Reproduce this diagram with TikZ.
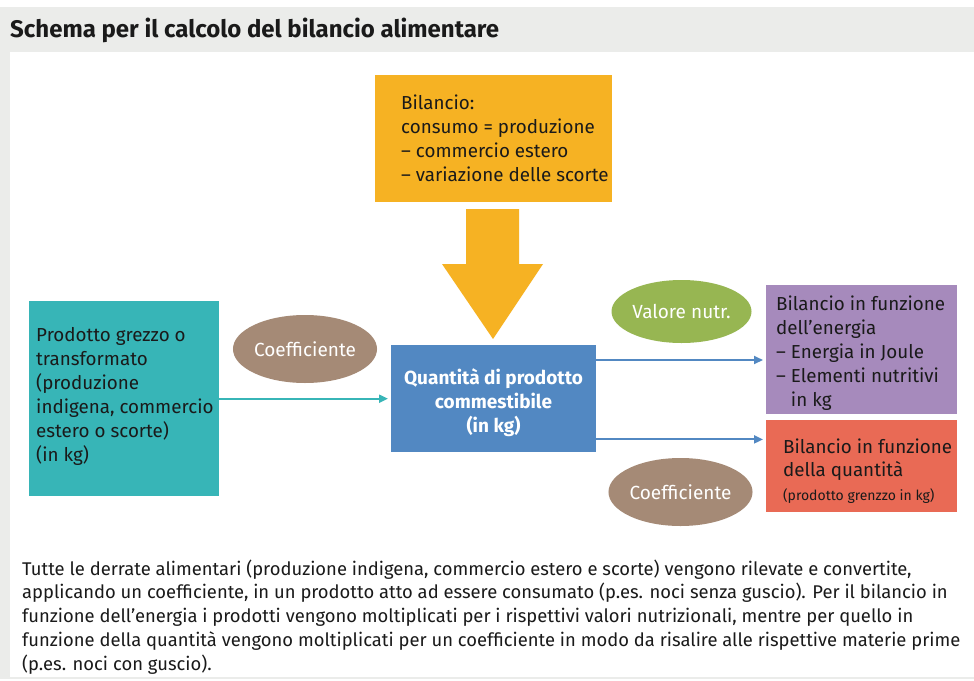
\documentclass[tikz,border=0pt]{standalone}
\usepackage{fontspec}
\setmainfont{Fira Sans}
\usetikzlibrary{arrows.meta,shapes.geometric}
\definecolor{cgray}{HTML}{EBECEA}
\definecolor{corange}{HTML}{F6B223}
\definecolor{cblue}{HTML}{5288C2}
\definecolor{cteal}{HTML}{37B5B7}
\definecolor{cbrown}{HTML}{A58A76}
\definecolor{cgreen}{HTML}{97B652}
\definecolor{cpurple}{HTML}{A68ABC}
\definecolor{cred}{HTML}{E96A55}
\definecolor{ctext}{HTML}{1A1A1A}
\begin{document}
\begin{tikzpicture}[x=1pt,y=-1pt,
  box/.style={draw=none, inner sep=0pt, anchor=north west},
  txt/.style={inner sep=0pt, align=left, anchor=north west, text=ctext, font=\fontsize{18.8}{24}\selectfont},
  ell/.style={ellipse, inner sep=0pt, text=white, minimum width=140pt, minimum height=68pt, font=\fontsize{19}{24}\selectfont},
  arr/.style={line width=2pt, shorten >=3pt, -{Triangle[length=9pt,width=8pt]}}]
\useasboundingbox (0,0) rectangle (974,680);
% frame
\fill[cgray] (0,7) rectangle (974,679);
\fill[white] (10,52) rectangle (974,677);
\node[inner sep=0pt, anchor=base west, text=ctext, font=\fontsize{24}{28}\selectfont\bfseries] (title) at (10,37) {Schema per il calcolo del bilancio alimentare};
% boxes
\node[box, fill=corange, minimum width=237pt, minimum height=127pt] (bil) at (375,75) {};
\node[box, fill=cteal, minimum width=190pt, minimum height=195pt] (prod) at (29,301) {};
\node[box, fill=cblue, minimum width=205pt, minimum height=107pt] (qta) at (391,345) {};
\node[box, fill=cpurple, minimum width=191pt, minimum height=129pt] (ener) at (766,285) {};
\node[box, fill=cred, minimum width=191pt, minimum height=92pt] (quant) at (766,420) {};
% texts
\node[txt] (bilt) at (401,92.2) {\strut Bilancio:\\consumo = produzione\\– commercio estero\\– variazione delle scorte};
\node[txt] (prodt) at (36,324.2) {\strut Prodotto grezzo o\\transformato\\(produzione\\indigena, commercio\\estero o scorte)\\(in kg)};
\node[txt, align=center, anchor=north, text=white, font=\fontsize{19}{24}\selectfont\bfseries] (qtat) at (493.5,367.2) {\strut Quantità di prodotto\\commestibile\\(in kg)};
\node[txt] (enert) at (776,293.2) {\strut Bilancio in funzione\\dell’energia\\– Energia in Joule\\– Elementi nutritivi\\\hphantom{– }in kg};
\node[txt, font=\fontsize{18.8}{23.5}\selectfont] (quantt) at (783,436.5) {\strut Bilancio in funzione\\della quantità};
\node[inner sep=0pt, anchor=base west, text=ctext, font=\fontsize{14}{18}\selectfont] (quantn) at (783,500) {(prodotto grenzzo in kg)};
% ellipses
\node[ell, fill=cbrown] (coef1) at (305,349) {Coefficiente};
\node[ell, fill=cgreen, minimum height=63pt] (valn) at (681.5,311.5) {Valore nutr.};
\node[ell, fill=cbrown] (coef2) at (680.5,492) {Coefficiente};
% big arrow
\fill[corange] (466,209) -- (519,209) -- (519,264) -- (543,264) -- (493,339) -- (442,264) -- (466,264) -- cycle;
% connectors
\draw[arr, cteal] (prod.east) -- (qta.west);
\draw[arr, cblue] ([yshift=-15pt]qta.north east) -- ([yshift=-15pt]qta.north east -| ener.west);
\draw[arr, cblue] ([yshift=13pt]qta.south east) -- ([yshift=13pt]qta.south east -| quant.west);
% bottom text
\node[txt, font=\fontsize{18.4}{23.8}\selectfont] (note) at (22,558.3) {\strut Tutte le derrate alimentari (produzione indigena, commercio estero e scorte) vengono rilevate e convertite,\\applicando un coefficiente, in un prodotto atto ad essere consumato (p.es. noci senza guscio). Per il bilancio in\\funzione dell'energia i prodotti vengono moltiplicati per i rispettivi valori nutrizionali, mentre per quello in\\funzione della quantità vengono moltiplicati per un coefficiente in modo da risalire alle rispettive materie prime\\(p.es. noci con guscio).};
\end{tikzpicture}
\end{document}
